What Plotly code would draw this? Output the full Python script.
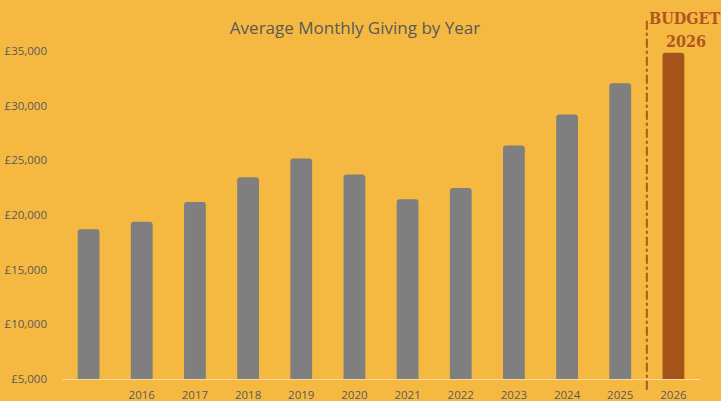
import plotly.graph_objects as go

years = ["", "2016", "2017", "2018", "2019", "2020", "2021", "2022", "2023", "2024", "2025", "2026"]
giving = [18690, 19380, 21180, 23460, 25160, 23700, 21450, 22480, 26360, 29200, 32060, 34840]
bar_colors = ["#7F7F7F"] * 11 + ["#A5541A"]
y_ticks = [5000, 10000, 15000, 20000, 25000, 30000, 35000]
y_labels = ["£5,000", "£10,000", "£15,000", "£20,000", "£25,000", "£30,000", "£35,000"]

idx = list(range(len(years)))

fig = go.Figure(go.Bar(
    x=idx, y=giving,
    marker=dict(color=bar_colors, cornerradius=3, line=dict(width=0)),
    width=0.41,
))

bg = "#F5B942"
txt = "#595959"
brown = "#B0561E"

fig.add_shape(type="line", xref="x", yref="paper", x0=10.5, x1=10.5, y0=-0.033, y1=1.10,
              line=dict(color=brown, width=2, dash="dashdot"))

fig.add_annotation(text="<b>BUDGET</b>", xref="paper", yref="paper", x=(684.5 - 62) / 638, y=1.098,
                   showarrow=False, xanchor="center", yanchor="middle",
                   font=dict(family="DejaVu Serif Condensed", size=16, color=brown))
fig.add_annotation(text="<b>2026</b>", xref="paper", yref="paper", x=(686 - 62) / 638, y=1.028,
                   showarrow=False, xanchor="center", yanchor="middle",
                   font=dict(family="DejaVu Serif Condensed", size=16, color=brown))

fig.update_layout(
    width=721, height=401,
    margin=dict(l=62, r=21, t=51, b=22, autoexpand=False),
    paper_bgcolor=bg, plot_bgcolor=bg,
    showlegend=False,
    title=dict(text="Average Monthly Giving by Year", x=355/721, xref="container", xanchor="center",
               y=1 - 28/401, yref="container", yanchor="middle",
               font=dict(family="Open Sans", size=17, color=txt)),
    font=dict(family="Open Sans", size=11, color=txt),
    xaxis=dict(tickmode="array", tickvals=idx, ticktext=years, range=[-0.5, 11.5],
               automargin=False,
               showgrid=False, zeroline=False, showline=True, linecolor="#F8D9A0", linewidth=1,
               ticks="", ticklabelstandoff=5, tickfont=dict(size=11.5, color=txt)),
    yaxis=dict(tickmode="array", tickvals=y_ticks, ticktext=y_labels, range=[5000, 35000],
               automargin=False,
               showgrid=False, zeroline=False, showline=False, ticks="",
               ticklabelstandoff=14, tickfont=dict(size=11.5, color=txt)),
)

fig.write_html("out.html")
